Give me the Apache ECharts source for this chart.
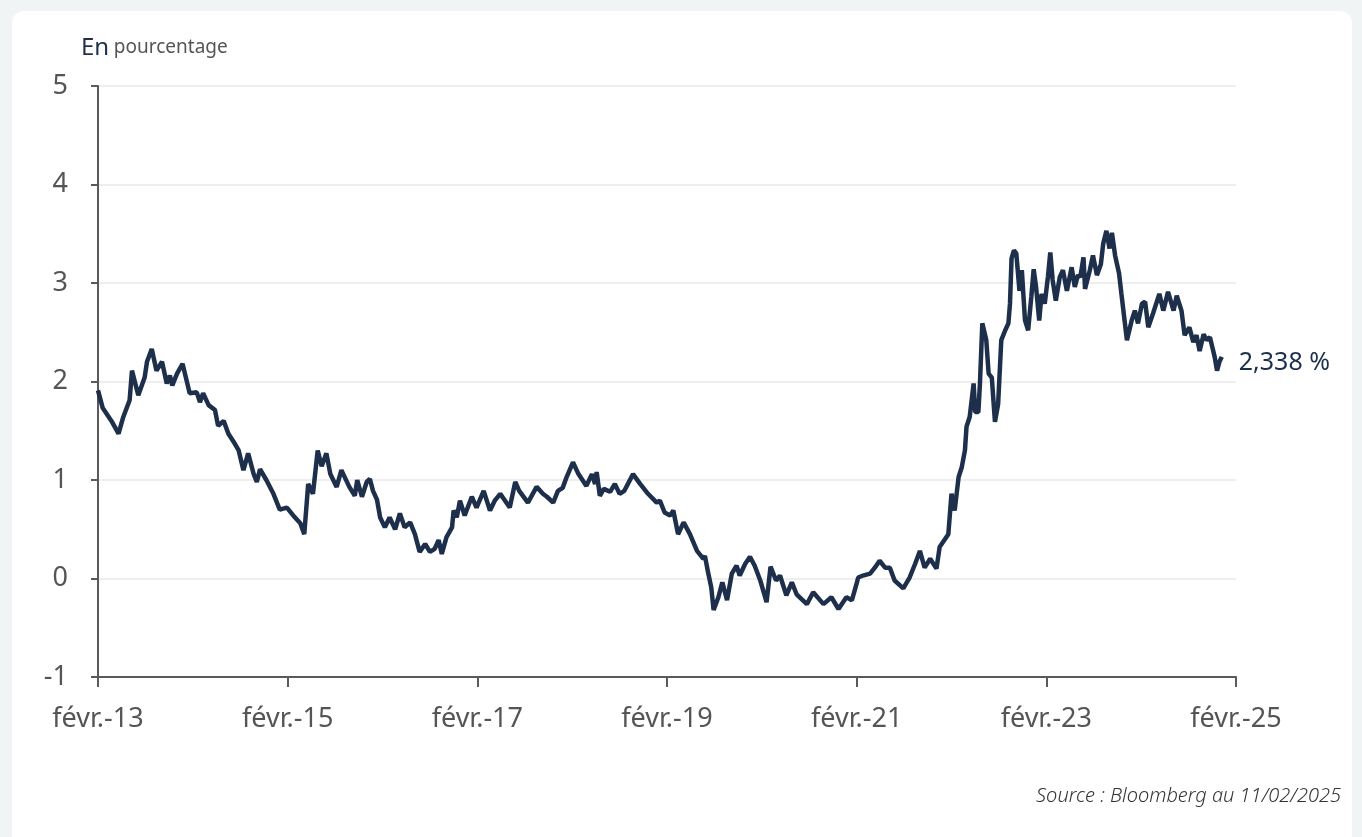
<!DOCTYPE html>
<html><head><meta charset="utf-8">
<script src="https://cdn.jsdelivr.net/npm/echarts@6/dist/echarts.min.js"></script>
<style>
html,body{margin:0;padding:0;width:1362px;height:837px;background:#f1f4f5;overflow:hidden;}
#card{position:absolute;left:12px;top:11px;width:1340px;height:850px;background:#fff;border-radius:12px;}
#chart{position:absolute;left:0;top:0;width:1362px;height:837px;}
</style></head>
<body><div id="card"></div><div id="chart"></div>
<script>
// months since Feb 2013
const monthIdx = [0,0.6,1.7,2.6,3.2,4.0,4.3,5.1,5.9,6.2,6.8,7.4,8.1,8.7,9.1,9.4,10.0,10.7,11.6,12.5,12.9,13.3,14.0,14.8,15.2,15.9,16.5,17.3,17.8,18.4,19.0,19.7,20.1,20.5,21.3,22.2,23.0,23.9,24.7,25.6,26.1,26.6,27.2,27.8,28.3,28.9,29.4,30.2,30.8,31.8,32.5,32.8,33.4,34.0,34.4,34.8,35.3,35.7,36.3,36.9,37.6,38.2,38.8,39.5,40.1,40.7,41.4,42.0,42.6,43.1,43.5,44.1,44.8,45.0,45.4,45.8,46.4,47.3,47.9,48.8,49.6,50.2,50.9,52.1,52.8,53.3,54.4,55.5,56.3,56.8,57.6,58.2,58.8,59.3,60.1,60.8,61.8,62.5,62.9,63.1,63.5,64.0,64.8,65.4,66.0,66.6,67.7,68.6,69.6,70.7,71.1,71.7,72.4,72.8,73.4,74.1,74.9,75.8,76.6,76.8,77.2,77.6,77.9,78.5,79.0,79.6,80.2,80.8,81.2,81.9,82.5,83.1,83.8,84.6,85.1,85.8,86.3,87.1,87.8,88.4,89.7,90.5,91.8,92.8,93.7,94.7,95.4,96.0,96.2,96.8,97.7,98.3,98.9,99.6,100.2,100.8,101.9,102.7,103.4,104.0,104.6,105.3,106.1,106.5,107.1,107.6,108.0,108.4,108.9,109.3,109.7,109.9,110.3,110.8,111.0,111.4,111.6,111.9,112.4,112.7,113.1,113.5,113.9,114.3,114.8,115.2,115.4,115.6,115.9,116.2,116.6,116.9,117.3,117.7,118.1,118.4,118.7,119.1,119.4,119.8,120.2,120.5,120.8,121.2,121.7,122.1,122.6,123.2,123.6,124.0,124.3,124.7,124.9,125.5,125.9,126.4,126.9,127.2,127.6,128.0,128.3,128.7,129.2,129.5,129.9,130.2,130.8,131.2,131.6,132.1,132.5,132.9,133.5,134.3,134.8,135.4,136.1,136.5,137.1,137.5,138.1,138.6,139.0,139.4,139.9,140.3,140.7,141.0,141.3,141.6,141.9,142.2];
const yieldPct = [1.91,1.73,1.60,1.47,1.64,1.81,2.11,1.86,2.04,2.20,2.33,2.11,2.20,1.98,2.06,1.96,2.08,2.18,1.88,1.89,1.79,1.88,1.76,1.71,1.55,1.60,1.47,1.37,1.30,1.10,1.27,1.06,0.98,1.11,1.00,0.86,0.70,0.72,0.64,0.56,0.45,0.96,0.86,1.30,1.14,1.27,1.06,0.93,1.10,0.93,0.84,1.00,0.83,0.98,1.01,0.89,0.80,0.62,0.52,0.62,0.50,0.66,0.52,0.57,0.45,0.27,0.35,0.27,0.30,0.39,0.25,0.42,0.52,0.69,0.62,0.79,0.64,0.83,0.72,0.89,0.69,0.79,0.86,0.72,0.98,0.89,0.77,0.93,0.86,0.83,0.77,0.89,0.92,1.03,1.18,1.06,0.94,1.06,0.96,1.08,0.84,0.91,0.88,0.96,0.86,0.89,1.06,0.96,0.86,0.77,0.79,0.67,0.64,0.69,0.45,0.57,0.45,0.28,0.20,0.23,0.06,-0.09,-0.32,-0.19,-0.04,-0.22,0.05,0.13,0.03,0.15,0.22,0.13,-0.02,-0.24,0.12,-0.02,0.03,-0.17,-0.04,-0.16,-0.26,-0.14,-0.26,-0.19,-0.31,-0.19,-0.22,-0.05,0.01,0.03,0.05,0.11,0.18,0.11,0.11,-0.02,-0.10,0.01,0.15,0.28,0.11,0.20,0.10,0.32,0.39,0.45,0.86,0.69,1.03,1.13,1.30,1.54,1.64,1.98,1.69,1.69,1.98,2.59,2.42,2.08,2.04,1.59,1.77,2.42,2.52,2.59,2.79,3.25,3.33,3.30,2.92,3.13,2.62,2.52,2.86,3.14,2.96,2.62,2.89,2.79,3.06,3.31,3.03,2.82,3.06,3.13,2.92,3.16,2.96,3.08,3.06,3.26,2.94,3.13,3.28,3.08,3.19,3.40,3.53,3.35,3.51,3.28,3.10,2.89,2.62,2.42,2.62,2.72,2.59,2.79,2.81,2.55,2.69,2.89,2.72,2.91,2.72,2.87,2.72,2.47,2.55,2.40,2.47,2.31,2.48,2.42,2.45,2.35,2.25,2.11,2.20,2.25];
const xTickLabels = ['févr.-13','févr.-15','févr.-17','févr.-19','févr.-21','févr.-23','févr.-25'];
const lastLabel = '2,338 %';
const titleMain = 'En';
const titleSub = 'pourcentage';
const sourceText = 'Source : Bloomberg au 11/02/2025';

const seriesData = monthIdx.map((m, i) => [m, yieldPct[i]]);
const chart = echarts.init(document.getElementById('chart'), null, {renderer: 'canvas'});
const navy = '#1d2f4b';
const axisGrey = '#5a5a5a';
chart.setOption({
  animation: false,
  backgroundColor: 'transparent',
  textStyle: {fontFamily: 'Noto Sans'},
  title: [{
    left: 76, top: 31,
    text: '{a|' + titleMain + '} {b|' + titleSub + '}',
    textStyle: {fontWeight: 'normal', rich: {
      a: {fontFamily: 'Noto Sans', fontSize: 24, fontWeight: 'normal', color: navy},
      b: {fontFamily: 'Noto Sans', fontSize: 19, fontWeight: 'normal', color: '#555'}
    }}
  }, {
    right: 16, top: 781,
    text: sourceText,
    textStyle: {fontFamily: 'Noto Sans', fontSize: 20, fontStyle: 'italic', fontWeight: 300, color: '#333'}
  }],
  grid: {left: 98, right: 126, top: 86, bottom: 160, containLabel: false},
  xAxis: {
    type: 'value', min: 0, max: 144, interval: 24,
    axisLine: {show: true, onZero: false, lineStyle: {color: axisGrey, width: 2}},
    axisTick: {show: true, length: 10, lineStyle: {color: axisGrey, width: 2}},
    splitLine: {show: false},
    axisLabel: {
      margin: 29, fontSize: 27, color: '#555', fontFamily: 'Noto Sans',
      formatter: v => xTickLabels[Math.round(v / 24)] || ''
    }
  },
  yAxis: {
    type: 'value', min: -1, max: 5, interval: 1,
    axisLine: {show: true, onZero: false, lineStyle: {color: axisGrey, width: 2}},
    axisTick: {show: true, length: 7, lineStyle: {color: axisGrey, width: 2}},
    splitLine: {show: true, lineStyle: {color: '#eeeeee', width: 2}},
    axisLabel: {margin: 30, fontSize: 27, color: '#555', fontFamily: 'Noto Sans'}
  },
  series: [{
    type: 'line',
    data: seriesData,
    showSymbol: false,
    lineStyle: {color: navy, width: 4.5},
    itemStyle: {color: navy},
    endLabel: {
      show: true, formatter: lastLabel, color: navy, fontSize: 25,
      fontFamily: 'Noto Sans', distance: 17, offset: [0, 6]
    }
  }]
});
</script></body></html>
